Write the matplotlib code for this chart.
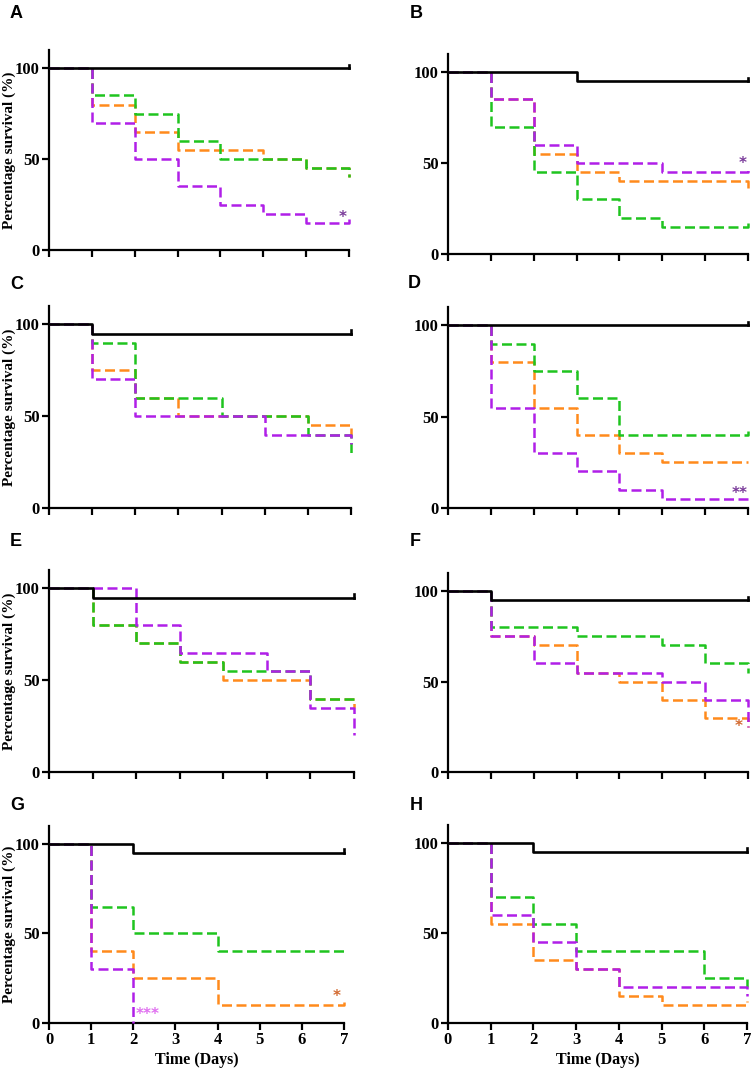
import matplotlib
matplotlib.use("Agg")
import matplotlib.pyplot as plt
import math

days = [0, 1, 2, 3, 4, 5, 6, 7]
panel_labels = ["A", "B", "C", "D", "E", "F", "G", "H"]
NA = float("nan")

# survival (%) per group, value holds from that day until next day (step post)
control = {
    "A": [100, 100, 100, 100, 100, 100, 100, 100],
    "B": [100, 100, 100, 95, 95, 95, 95, 95],
    "C": [100, 95, 95, 95, 95, 95, 95, 95],
    "D": [100, 100, 100, 100, 100, 100, 100, 100],
    "E": [100, 95, 95, 95, 95, 95, 95, 95],
    "F": [100, 95, 95, 95, 95, 95, 95, 95],
    "G": [100, 100, 95, 95, 95, 95, 95, 95],
    "H": [100, 100, 95, 95, 95, 95, 95, 95],
}
orange = {
    "A": [100, 80, 65, 55, 55, 50, 45, 40],
    "B": [100, 85, 55, 45, 40, 40, 40, 35],
    "C": [100, 75, 60, 50, 50, 50, 45, 40],
    "D": [100, 80, 55, 40, 30, 25, 25, 25],
    "E": [100, 80, 70, 60, 50, 50, 40, 35],
    "F": [100, 75, 70, 55, 50, 40, 30, 25],
    "G": [100, 40, 25, 25, 10, 10, 10, 12],
    "H": [100, 55, 35, 30, 15, 10, 10, 12],
}
green = {
    "A": [100, 85, 75, 60, 50, 50, 45, 40],
    "B": [100, 70, 45, 30, 20, 15, 15, 17],
    "C": [100, 90, 60, 60, 50, 50, 40, 30],
    "D": [100, 90, 75, 60, 40, 40, 40, 42],
    "E": [100, 80, 70, 60, 55, 55, 40, 40],
    "F": [100, 80, 80, 75, 75, 70, 60, 55],
    "G": [100, 65, 50, 50, 40, 40, 40, 42],
    "H": [100, 70, 55, 40, 40, 40, 25, 20],
}
purple = {
    "A": [100, 70, 50, 35, 25, 20, 15, 17],
    "B": [100, 85, 60, 50, 50, 45, 45, 47],
    "C": [100, 70, 50, 50, 50, 40, 40, 35],
    "D": [100, 55, 30, 20, 10, 5, 5, 7],
    "E": [100, 100, 80, 65, 65, 55, 35, 20],
    "F": [100, 75, 60, 55, 55, 50, 40, 25],
    "G": [100, 30, 0, NA, NA, NA, NA, NA],
    "H": [100, 60, 45, 30, 20, 20, 20, 15],
}
# significance marks: (panel, text, day, value, color)
marks = [
    ("A", "*", 6.86, 18, "#7a3a9a"),
    ("B", "*", 6.88, 50, "#7a3a9a"),
    ("D", "**", 6.81, 8, "#7a3a9a"),
    ("F", "*", 6.79, 25, "#d2692f"),
    ("G", "*", 6.83, 15, "#d2692f"),
    ("G", "***", 2.33, 5, "#e070f0"),
]

W, H = 751, 1068
# pixel boxes: left, right, y at 0, y at 110
boxes = {
    "A": (49, 349, 250, 50),
    "B": (448, 748, 254, 54),
    "C": (49, 351, 508, 306),
    "D": (448, 748, 508, 307),
    "E": (49, 354, 772, 570),
    "F": (448, 748, 772, 573),
    "G": (49, 344, 1023, 826),
    "H": (448, 747, 1023, 825),
}
letter_pos = {
    "A": (10, 14), "B": (410, 14), "C": (10, 285), "D": (408, 284),
    "E": (10, 541), "F": (410, 542), "G": (10, 805), "H": (410, 805),
}

C_GREEN = "#1fc41f"
C_ORANGE = "#ff8a1c"
C_PURPLE = "#b01fe8"

serif = ["Liberation Serif", "DejaVu Serif"]

fig = plt.figure(figsize=(W / 100, H / 100), dpi=100)
fig.patch.set_facecolor("white")

dash = (0, (4.0, 1.8))


def trimmed(vals):
    xs, ys = [], []
    for x, v in zip(days, vals):
        if not math.isnan(v):
            xs.append(x)
            ys.append(v)
    return xs, ys


for p in panel_labels:
    l, r, y0, y1 = boxes[p]
    ax = fig.add_axes([l / W, 1 - y0 / H, (r - l) / W, (y0 - y1) / H])
    for vals, col, z in ((orange[p], C_ORANGE, 2), (green[p], C_GREEN, 3),
                         (purple[p], C_PURPLE, 4)):
        xs, ys = trimmed(vals)
        ax.step(xs, ys, where="post", color=col, lw=1.8,
                linestyle=dash, clip_on=False, zorder=z)
    ax.step(days, control[p], where="post", color="black", lw=1.9,
            clip_on=False, zorder=5)
    ax.plot([days[-1], days[-1]], [control[p][-1], control[p][-1] + 2],
            color="black", lw=1.9, clip_on=False, zorder=5)
    ax.set_xlim(0, 7)
    ax.set_ylim(0, 110)
    ax.set_yticks([0, 50, 100])
    ax.set_xticks(days)
    for s in ["top", "right"]:
        ax.spines[s].set_visible(False)
    for s in ["left", "bottom"]:
        ax.spines[s].set_linewidth(1.6)
    ax.tick_params(direction="out", length=5, width=1.6, pad=1.5)
    for t in ax.get_yticklabels():
        t.set_fontfamily(serif)
        t.set_fontweight("bold")
        t.set_fontsize(12)
    if p in ("G", "H"):
        for t in ax.get_xticklabels():
            t.set_fontfamily(serif)
            t.set_fontweight("bold")
            t.set_fontsize(12)
        ax.set_xlabel("Time (Days)", fontfamily=serif, fontweight="bold",
                      fontsize=11.5, labelpad=3)
    else:
        ax.set_xticklabels([])
    if p in ("A", "C", "E", "G"):
        ax.set_ylabel("Percentage survival (%)", fontfamily=serif,
                      fontweight="bold", fontsize=11)
        ax.yaxis.set_label_coords(-33 / (r - l), 0.5)
    for mp, txt, x, y, c in marks:
        if mp == p:
            ax.text(x, y, txt, color=c, fontsize=11, fontweight="bold",
                    ha="center", va="center", zorder=6)
    lx, ly = letter_pos[p]
    fig.text(lx / W, 1 - ly / H, p, fontsize=13, fontweight="bold",
             fontfamily=["Liberation Sans", "DejaVu Sans"], ha="left", va="center")

fig.savefig("out.png", dpi=100, facecolor="white")
